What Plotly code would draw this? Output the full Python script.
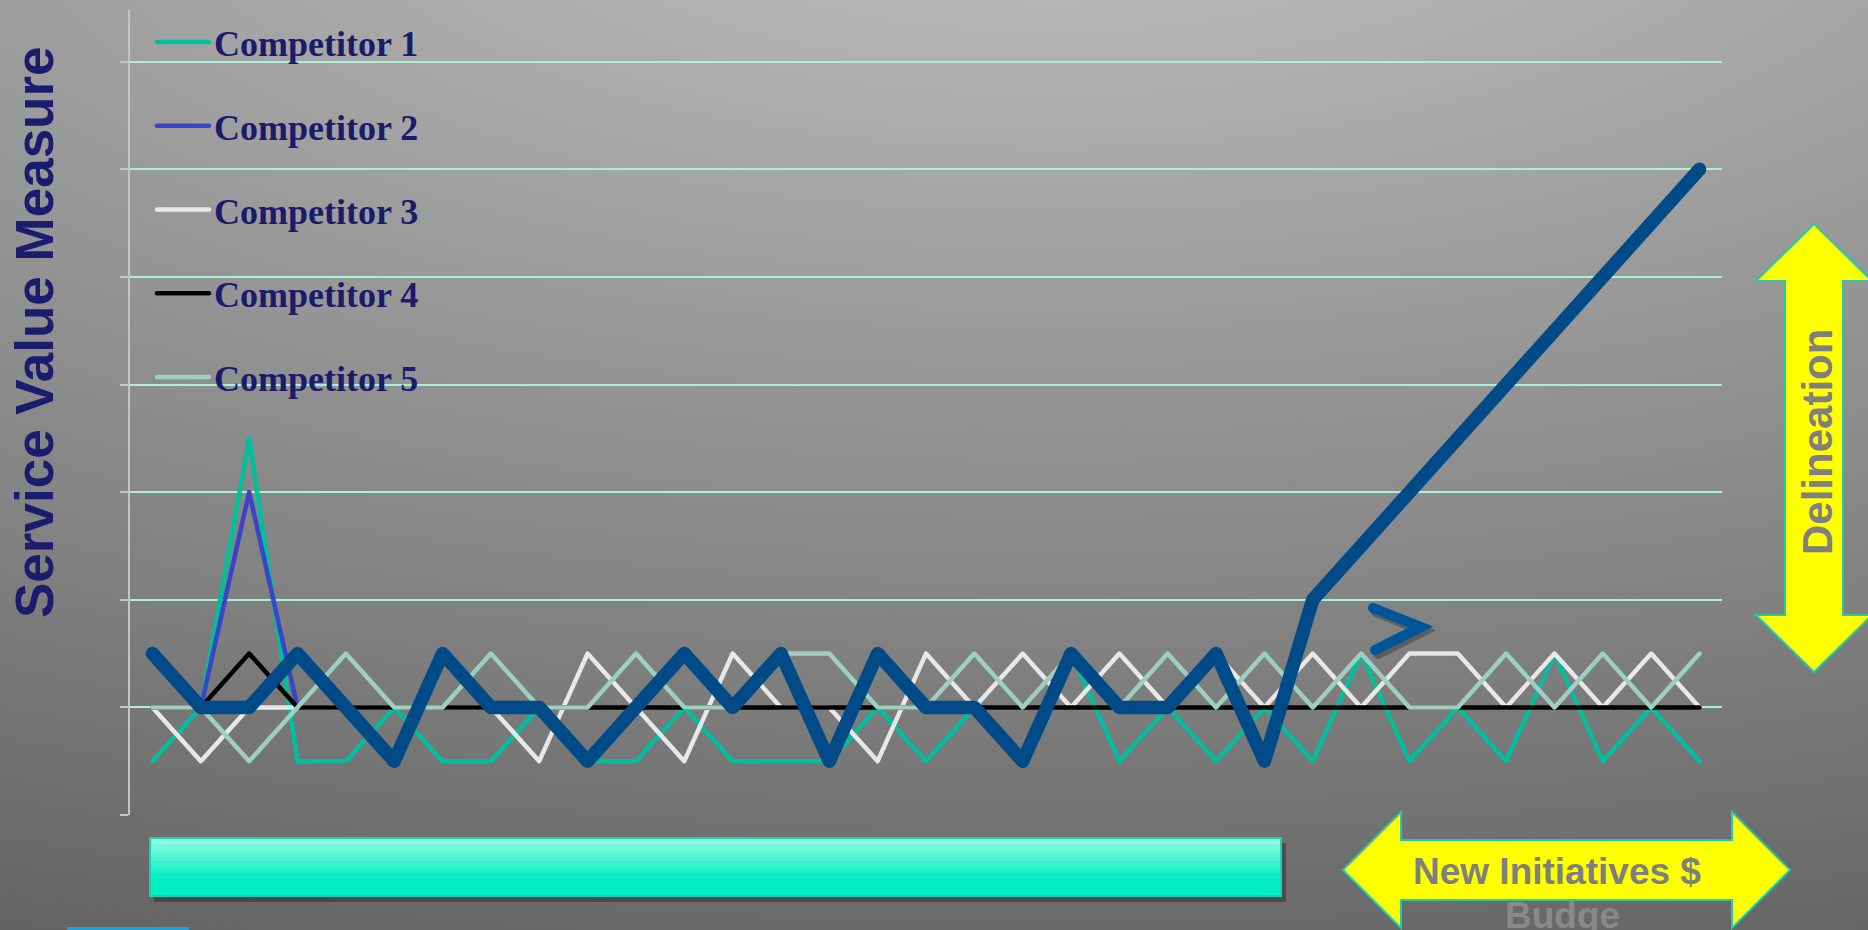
import base64
import plotly.graph_objects as go

# ---- data -------------------------------------------------------------
periods = list(range(1, 34))

competitor_1 = [0.5, 1, 3.5, 0.5, 0.5, 1, 0.5, 0.5, 1, 0.5,
                0.5, 1, 0.5, 0.5, 0.5, 1, 0.5, 1, 0.5, 1.5,
                0.5, 1, 0.5, 1, 0.5, 1.5, 0.5, 1, 0.5, 1.5,
                0.5, 1, 0.5]
competitor_2 = [None, 1, 3, 1] + [None] * 29
competitor_3 = [1, 0.5, 1, 1, 1, 1, 1, 1, 0.5, 1.5,
                1, 0.5, 1.5, 1, 1, 0.5, 1.5, 1, 1.5, 1,
                1.5, 1, 1.5, 1, 1.5, 1, 1.5, 1.5, 1, 1.5,
                1, 1.5, 1]
competitor_4 = [1, 1, 1.5] + [1] * 30
competitor_5 = [1, 1, 0.5, 1, 1.5, 1, 1, 1.5, 1, 1,
                1.5, 1, 1, 1.5, 1.5, 1, 1, 1.5, 1, 1.5,
                1, 1.5, 1, 1.5, 1, 1.5, 1, 1, 1.5, 1,
                1.5, 1, 1.5]
our_service = [1.5, 1, 1, 1.5, 1, 0.5, 1.5, 1, 1, 0.5,
               1, 1.5, 1, 1.5, 0.5, 1.5, 1, 1, 0.5, 1.5,
               1, 1, 1.5, 0.5, 2, 2.5, 3, 3.5, 4, 4.5,
               5, 5.5, 6]

competitor_names = ["Competitor 1", "Competitor 2", "Competitor 3",
                    "Competitor 4", "Competitor 5"]
y_ticks = [0, 1, 2, 3, 4, 5, 6, 7]

# ---- page geometry ------------------------------------------------------
W, H = 1868, 930
ML, MR, MT, MB = 130, 146, 10, 115
PW, PH = W - ML - MR, H - MT - MB


def xp(px):
    return (px - ML) / PW


def yp(py):
    return (H - MB - py) / PH


def path(points):
    return "M " + " L ".join(f"{xp(x):.5f},{yp(y):.5f}" for x, y in points) + " Z"


def open_path(points, dx=0, dy=0):
    return "M " + " L ".join(f"{xp(x + dx):.5f},{yp(y + dy):.5f}" for x, y in points)


# ---- background ---------------------------------------------------------
bg_svg = f"""<svg xmlns="http://www.w3.org/2000/svg" width="{W}" height="{H}" viewBox="0 0 {W} {H}" preserveAspectRatio="none">
<defs><radialGradient id="g" gradientUnits="userSpaceOnUse" cx="1050" cy="-150" r="1250"
 gradientTransform="translate(1050 -150) scale(2.5 1) translate(-1050 150)">
<stop offset="0.12" stop-color="#b6b6b6"/>
<stop offset="0.36" stop-color="#9d9d9d"/>
<stop offset="0.60" stop-color="#858585"/>
<stop offset="0.864" stop-color="#6a6a6a"/>
<stop offset="1" stop-color="#595959"/>
</radialGradient></defs>
<rect width="{W}" height="{H}" fill="url(#g)"/></svg>"""
bg_uri = "data:image/svg+xml;base64," + base64.b64encode(bg_svg.encode()).decode()

# ---- traces -------------------------------------------------------------
colors = ["#00bf9c", "#3a44c6", "#e8e8e8", "#000000", "#9fcfc0"]
series = [competitor_1, competitor_2, competitor_3, competitor_4, competitor_5]

fig = go.Figure()
for name, vals, col in zip(competitor_names, series, colors):
    fig.add_trace(go.Scatter(
        x=periods, y=vals, name=name, mode="lines",
        line=dict(color=col, width=4.5),
        legendgroup=name, connectgaps=False,
    ))

fig.add_trace(go.Scatter(
    x=periods, y=our_service, name="Our Service", mode="lines",
    line=dict(color="#004a88", width=13.5), showlegend=False,
))

# ---- decorations --------------------------------------------------------
shapes = []


def lerp_hex(c1, c2, t):
    a = [int(c1[i:i + 2], 16) for i in (1, 3, 5)]
    b = [int(c2[i:i + 2], 16) for i in (1, 3, 5)]
    return "#" + "".join(f"{round(a[k] + (b[k] - a[k]) * t):02x}" for k in range(3))


# aqua bar with shadow
bx0, bx1, by0, by1 = 150, 1281, 838, 896
shapes.append(dict(type="rect", xref="paper", yref="paper",
                   x0=xp(bx0 + 4), x1=xp(bx1 + 5), y0=yp(by0 + 5), y1=yp(by1 + 6),
                   fillcolor="rgba(0,0,0,0.30)", line=dict(width=0), layer="above"))
n_strips = 24
for k in range(n_strips):
    t = k / (n_strips - 1)
    col = lerp_hex("#94ffe3", "#00efc2", min(1.0, t / 0.72))
    ya = by0 + (by1 - by0) * k / n_strips
    yb = by0 + (by1 - by0) * (k + 1) / n_strips
    shapes.append(dict(type="rect", xref="paper", yref="paper",
                       x0=xp(bx0), x1=xp(bx1), y0=yp(yb + 0.5), y1=yp(ya),
                       fillcolor=col, line=dict(width=0), layer="above"))
shapes.append(dict(type="rect", xref="paper", yref="paper",
                   x0=xp(bx0), x1=xp(bx1), y0=yp(by1), y1=yp(by0),
                   fillcolor="rgba(0,0,0,0)", line=dict(color="#1ad2ac", width=2),
                   layer="above"))

# small blue tab at the bottom edge
shapes.append(dict(type="rect", xref="paper", yref="paper",
                   x0=xp(67), x1=xp(189), y0=yp(932), y1=yp(927),
                   fillcolor="#1da1e2", line=dict(width=0), layer="above"))

# vertical double arrow
cx, t_top, t_bot, hh, hw, sw = 1814, 224, 672, 57, 58, 29
v_arrow = [(cx, t_top), (cx + hw, t_top + hh), (cx + sw, t_top + hh),
           (cx + sw, t_bot - hh), (cx + hw, t_bot - hh), (cx, t_bot),
           (cx - hw, t_bot - hh), (cx - sw, t_bot - hh), (cx - sw, t_top + hh),
           (cx - hw, t_top + hh)]
shapes.append(dict(type="path", xref="paper", yref="paper", path=path(v_arrow),
                   fillcolor="#ffff00", line=dict(color="#22ccaa", width=2),
                   layer="above"))

# horizontal double arrow
cy, l_tip, r_tip, hl, hh2, sh = 870, 1343, 1790, 58, 58, 30
h_arrow = [(l_tip, cy), (l_tip + hl, cy - hh2), (l_tip + hl, cy - sh),
           (r_tip - hl, cy - sh), (r_tip - hl, cy - hh2), (r_tip, cy),
           (r_tip - hl, cy + hh2), (r_tip - hl, cy + sh), (l_tip + hl, cy + sh),
           (l_tip + hl, cy + hh2)]
shapes.append(dict(type="path", xref="paper", yref="paper", path=path(h_arrow),
                   fillcolor="#ffff00", line=dict(color="#22ccaa", width=2),
                   layer="above"))

# chevron marker with shadow
chev = [(1373, 608), (1421, 627), (1375, 650)]
shapes.append(dict(type="path", xref="paper", yref="paper", path=open_path(chev, 3, 4),
                   line=dict(color="rgba(30,30,30,0.35)", width=10), layer="above"))
shapes.append(dict(type="path", xref="paper", yref="paper", path=open_path(chev),
                   line=dict(color="#00559a", width=10), layer="above"))

annotations = [
    dict(text="<b>Service Value Measure</b>", xref="paper", yref="paper",
         x=xp(34), y=yp(332), textangle=-90, showarrow=False,
         xanchor="center", yanchor="middle",
         font=dict(family="Liberation Sans, Arial", size=53, color="#1c1c6e")),
    dict(text="<b>Delineation</b>", xref="paper", yref="paper",
         x=xp(1818), y=yp(442), textangle=-90, showarrow=False,
         xanchor="center", yanchor="middle",
         font=dict(family="Liberation Sans, Arial", size=42, color="#7f7f7f")),
    dict(text="<b>New Initiatives $</b>", xref="paper", yref="paper",
         x=xp(1557), y=yp(871), showarrow=False,
         xanchor="center", yanchor="middle",
         font=dict(family="Liberation Sans, Arial", size=37, color="#7f7f7f")),
    dict(text="<b>Budge</b>", xref="paper", yref="paper",
         x=xp(1562), y=yp(915), showarrow=False,
         xanchor="center", yanchor="middle",
         font=dict(family="Liberation Sans, Arial", size=37, color="#898989")),
]

fig.update_layout(
    width=W, height=H,
    margin=dict(l=ML, r=MR, t=MT, b=MB, pad=0),
    paper_bgcolor="#8c8c8c",
    plot_bgcolor="rgba(0,0,0,0)",
    images=[dict(source=bg_uri, xref="paper", yref="paper",
                 x=xp(0), y=yp(0), sizex=W / PW, sizey=H / PH,
                 xanchor="left", yanchor="top", sizing="stretch", layer="below")],
    shapes=shapes,
    annotations=annotations,
    showlegend=True,
    legend=dict(x=xp(152), y=yp(12), xanchor="left", yanchor="top",
                bgcolor="rgba(0,0,0,0)", borderwidth=0,
                tracegroupgap=34, itemwidth=52,
                font=dict(family="Liberation Serif, Times New Roman", size=36,
                          color="#1b1b6e", weight="bold")),
    xaxis=dict(range=[0.535, 33.465], showgrid=False, zeroline=False,
               showline=False, showticklabels=False, ticks=""),
    yaxis=dict(range=[0, 7.48], tickvals=y_ticks, showticklabels=False,
               showgrid=True, gridcolor="#a9efd9", gridwidth=2,
               zeroline=False, showline=True, linecolor="#c4c4c4", linewidth=2,
               ticks="outside", ticklen=8, tickcolor="#c4c4c4", tickwidth=2),
)

# rounded joins and caps on the series lines and the chevron
post = """
document.querySelectorAll('.scatterlayer .js-line, .legend .js-line').forEach(function(p){
  p.style.strokeLinejoin = 'round'; p.style.strokeLinecap = 'round';
});
document.querySelectorAll('.shapelayer path').forEach(function(p){
  p.style.strokeLinecap = 'round';
});
"""

fig.write_html("out.html", post_script=post)
